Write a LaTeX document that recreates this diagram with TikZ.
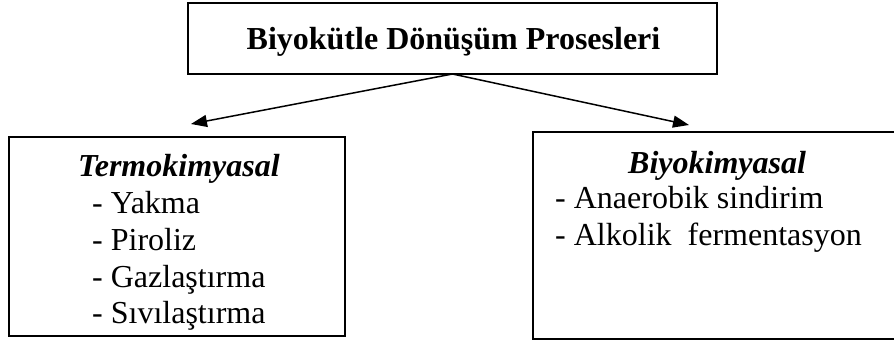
\documentclass[tikz,border=0pt]{standalone}
\usepackage{fontspec}
\setmainfont{Liberation Serif}
\usetikzlibrary{arrows.meta}
\begin{document}
\begin{tikzpicture}[x=1pt,y=-1pt,
  frame/.style={draw=black, line width=1.6pt, inner sep=0pt, outer sep=0pt},
  txt/.style={inner sep=0pt, font=\fontsize{32}{37}\selectfont},
  link/.style={line width=1.5pt, -{Triangle[length=16pt,width=12pt]}}]
\useasboundingbox (0,0) rectangle (894,345);

% boxes
\node[frame, minimum width=529pt, minimum height=71pt] (top) at (452.5,38.5) {};
\node[frame, minimum width=336pt, minimum height=199pt] (left) at (177,236.5) {};
\node[frame, minimum width=362pt, minimum height=207pt] (right) at (714,235.5) {};

% title
\node[txt, anchor=base] (title) at (453.5,50) {\textbf{Biyokütle Dönüşüm Prosesleri}};

% thermochemical branch
\node[txt, anchor=base west] (thead) at (78,176) {\textbf{\textit{Termokimyasal}}};
\node[txt, anchor=base west] (t1) at (92,213) {- Yakma};
\node[txt, anchor=base west] (t2) at (92,250) {- Piroliz};
\node[txt, anchor=base west] (t3) at (92,287) {- Gazlaştırma};
\node[txt, anchor=base west] (t4) at (92,323) {- Sıvılaştırma};

% biochemical branch
\node[txt, anchor=base west] (bhead) at (628,173) {\textbf{\textit{Biyokimyasal}}};
\node[txt, anchor=base west] (b1) at (555,208) {- Anaerobik sindirim};
\node[txt, anchor=base west] (b2) at (555,245) {- Alkolik\ \ fermentasyon};

% connectors
\coordinate (tipL) at (191,124);
\coordinate (tipR) at (689,125);
\draw[link] (top.south) -- (tipL);
\draw[link] (top.south) -- (tipR);
\end{tikzpicture}
\end{document}
